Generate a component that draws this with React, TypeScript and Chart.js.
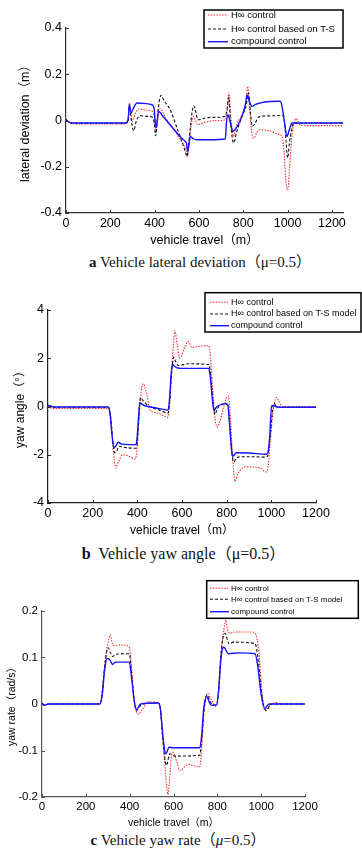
import React, { useEffect, useRef } from "react";
import { Chart, registerables } from "chart.js";

Chart.register(...registerables);

// ---------- tick labels ----------
const xTicksA = [0, 200, 400, 600, 800, 1000, 1200];
const xTicksBC = [0, 200, 400, 600, 800, 1000, 1200];
const yTicksA = [-0.4, -0.2, 0, 0.2, 0.4];
const yTicksB = [-4, -2, 0, 2, 4];
const yTicksC = [-0.2, -0.1, 0, 0.1, 0.2];

const labelsA = ["H\u221E control", "H\u221E control based on T-S", "compound control"];
const labelsBC = ["H\u221E control", "H\u221E control based on T-S model", "compound control"];

// ---------- (a) lateral deviation (m) ----------
const latHinfX = [0, 15, 40, 268, 280, 286, 293, 300, 315, 328, 360, 388, 400, 407, 414, 421, 450, 480, 520, 540, 548, 556, 565, 573, 584, 594, 620, 680, 719, 728, 735, 745, 756, 770, 800, 812, 820, 828, 838, 847, 862, 877, 920, 960, 975, 985, 993, 1000, 1008, 1018, 1030, 1039, 1048, 1057, 1100, 1250];
const latHinfY = [0.004, -0.008, -0.015, -0.015, 0.005, 0.075, 0.03, -0.004, 0.035, 0.05, 0.045, 0.04, 0.01, -0.047, 0.02, 0.054, 0.01, -0.03, -0.09, -0.125, -0.158, -0.1, -0.02, 0.018, 0.0, -0.018, -0.01, 0.0, 0.004, 0.05, 0.119, 0.0, -0.069, -0.02, 0.04, 0.08, 0.148, 0.06, -0.05, -0.076, -0.05, -0.04, -0.045, -0.06, -0.069, -0.15, -0.27, -0.3, -0.22, -0.08, -0.01, 0.008, -0.005, -0.02, -0.022, -0.022];

const latTsX = [0, 15, 40, 268, 280, 286, 295, 305, 318, 335, 360, 388, 398, 405, 413, 422, 430, 440, 470, 500, 530, 540, 546, 552, 560, 568, 576, 585, 595, 610, 628, 680, 719, 727, 734, 742, 756, 770, 795, 812, 824, 832, 840, 852, 865, 877, 920, 975, 985, 993, 1000, 1008, 1018, 1027, 1050, 1250];
const latTsY = [0.004, -0.008, -0.012, -0.012, 0.0, 0.06, 0.0, -0.044, 0.0, 0.021, 0.018, 0.015, -0.01, -0.066, 0.02, 0.09, 0.109, 0.09, 0.047, -0.03, -0.11, -0.14, -0.155, -0.12, -0.04, 0.03, 0.064, 0.04, 0.003, 0.005, 0.011, 0.014, 0.018, 0.05, 0.101, 0.0, -0.097, -0.05, 0.02, 0.06, 0.119, 0.04, -0.025, -0.015, 0.01, 0.018, 0.02, 0.022, 0.0, -0.09, -0.162, -0.1, -0.04, -0.011, -0.012, -0.012];

const latCompX = [0, 15, 40, 268, 280, 286, 293, 305, 320, 350, 388, 398, 402, 407, 412, 418, 440, 480, 520, 538, 544, 549, 555, 561, 575, 591, 650, 719, 724, 731, 742, 753, 770, 795, 810, 817, 828, 839, 855, 877, 920, 960, 967, 975, 985, 997, 1008, 1020, 1250];
const latCompY = [0.005, -0.008, -0.011, -0.011, 0.0, 0.071, 0.032, 0.055, 0.076, 0.074, 0.068, 0.05, -0.005, -0.03, 0.0, 0.039, 0.015, -0.03, -0.075, -0.09, -0.1, -0.134, -0.1, -0.069, -0.08, -0.083, -0.083, -0.08, -0.01, 0.025, -0.01, -0.047, -0.03, 0.02, 0.07, 0.112, 0.08, 0.061, 0.07, 0.076, 0.082, 0.083, 0.083, 0.06, 0.0, -0.069, -0.04, -0.011, -0.011];

// ---------- (b) yaw angle (deg) ----------
const yawHinfX = [0, 10, 30, 270, 280, 292, 303, 315, 336, 360, 389, 397, 405, 415, 426, 440, 455, 470, 500, 535, 543, 552, 562, 568, 578, 590, 610, 628, 645, 680, 720, 728, 738, 748, 758, 770, 790, 807, 815, 825, 837, 850, 865, 882, 950, 975, 985, 995, 1005, 1013, 1023, 1035, 1050, 1200];
const yawHinfY = [0.02, -0.05, -0.08, -0.08, -0.5, -1.8, -2.55, -2.3, -2.0, -2.05, -2.17, -1.9, -0.9, 0.4, 0.95, 0.6, -0.1, -0.22, -0.3, -0.45, 0.0, 1.3, 2.6, 3.15, 2.6, 2.01, 2.4, 2.7, 2.45, 2.5, 2.52, 2.0, 0.6, -0.5, -0.86, -0.6, 0.1, 0.44, -0.2, -1.8, -3.1, -2.8, -2.6, -2.5, -2.55, -2.71, -2.5, -1.5, -0.4, 0.1, 0.37, 0.2, 0.0, 0.0];

const yawTsX = [0, 10, 25, 270, 280, 290, 298, 308, 318, 340, 393, 400, 407, 414, 425, 450, 500, 538, 545, 552, 563, 572, 584, 631, 720, 728, 738, 747, 756, 767, 796, 806, 815, 824, 832, 842, 851, 900, 976, 985, 995, 1005, 1012, 1022, 1031, 1200];
const yawTsY = [0.05, 0.0, -0.03, -0.03, -0.4, -1.4, -1.92, -1.85, -1.65, -1.69, -1.73, -1.5, -0.4, 0.37, 0.25, 0.03, -0.15, -0.27, 0.2, 1.2, 2.05, 1.85, 1.7, 1.77, 1.74, 1.3, 0.3, -0.34, -0.15, 0.04, 0.1, 0.0, -1.0, -2.0, -2.3, -2.15, -2.1, -2.08, -2.1, -2.0, -1.2, -0.2, 0.14, 0.02, -0.03, -0.03];

const yawCompX = [0, 10, 25, 270, 278, 287, 295, 305, 314, 330, 393, 398, 405, 411, 420, 434, 480, 538, 545, 551, 557, 565, 578, 600, 720, 727, 735, 743, 752, 760, 796, 806, 812, 820, 826, 835, 843, 900, 976, 985, 993, 1001, 1010, 1030, 1200];
const yawCompY = [0.05, 0.03, -0.02, -0.02, -0.3, -1.2, -1.71, -1.62, -1.48, -1.56, -1.58, -1.4, -0.5, 0.16, 0.1, 0.03, -0.05, -0.15, 0.4, 1.3, 1.74, 1.68, 1.6, 1.58, 1.58, 1.2, 0.4, -0.18, -0.05, 0.02, 0.12, 0.05, -0.6, -1.6, -2.06, -2.0, -1.92, -1.93, -1.98, -1.9, -1.2, 0.02, 0.03, -0.03, -0.03];

// ---------- (c) yaw rate (rad/s) ----------
const rateHinfX = [0, 10, 30, 264, 275, 290, 305, 312, 318, 325, 360, 398, 408, 420, 439, 460, 484, 530, 540, 552, 562, 570, 575, 581, 589, 598, 612, 629, 667, 720, 728, 740, 758, 772, 794, 806, 818, 830, 839, 847, 857, 880, 957, 975, 990, 1005, 1017, 1030, 1050, 1071, 1090, 1200];
const rateHinfY = [0.002, -0.002, 0.0, 0.0, 0.03, 0.1, 0.14, 0.149, 0.135, 0.126, 0.127, 0.123, 0.08, 0.01, -0.022, -0.01, 0.005, 0.002, -0.01, -0.08, -0.14, -0.18, -0.195, -0.17, -0.12, -0.104, -0.12, -0.143, -0.13, -0.135, -0.1, -0.01, 0.023, 0.01, -0.005, 0.03, 0.11, 0.16, 0.181, 0.16, 0.152, 0.155, 0.155, 0.15, 0.11, 0.02, -0.015, -0.008, 0.0, 0.003, 0.0, 0.0];

const rateTsX = [0, 10, 30, 264, 275, 287, 302, 312, 321, 339, 398, 408, 420, 431, 455, 530, 540, 550, 560, 568, 583, 606, 720, 728, 740, 754, 768, 782, 797, 806, 815, 825, 835, 854, 872, 972, 985, 1000, 1012, 1025, 1045, 1200];
const rateTsY = [0.002, -0.002, 0.0, 0.0, 0.025, 0.085, 0.121, 0.11, 0.102, 0.107, 0.108, 0.07, 0.01, -0.014, 0.0, 0.002, -0.01, -0.07, -0.115, -0.132, -0.107, -0.112, -0.11, -0.08, -0.01, 0.02, 0.005, -0.002, -0.002, 0.03, 0.1, 0.14, 0.152, 0.129, 0.133, 0.13, 0.1, 0.03, -0.005, -0.014, 0.0, 0.0];

const rateCompX = [0, 10, 30, 264, 275, 285, 297, 310, 321, 336, 398, 408, 420, 431, 450, 530, 540, 550, 558, 565, 580, 600, 720, 728, 738, 751, 765, 774, 797, 806, 815, 823, 830, 850, 900, 972, 985, 1000, 1017, 1030, 1040, 1200];
const rateCompY = [0.002, -0.003, 0.0, 0.0, 0.02, 0.07, 0.098, 0.095, 0.085, 0.09, 0.09, 0.06, 0.01, -0.012, 0.0, 0.002, -0.01, -0.06, -0.095, -0.107, -0.093, -0.094, -0.094, -0.07, -0.01, 0.016, 0.002, -0.003, -0.002, 0.03, 0.09, 0.118, 0.122, 0.108, 0.11, 0.108, 0.08, 0.02, -0.01, -0.002, 0.0, 0.0];

// ---------- styles ----------
const SANS = "'Liberation Sans', Arial, 'Noto Sans CJK SC', sans-serif";
const SERIF = "'Liberation Serif', 'Times New Roman', 'Noto Sans CJK SC', serif";
const STYLES = [
  { color: "rgba(255,20,20,0.95)", width: 1.1, dash: [1.4, 1.4] },
  { color: "#111111", width: 1.1, dash: [3, 2] },
  { color: "#1414ff", width: 1.4, dash: [] as number[] },
];

type Panel = {
  top: number;
  height: number;
  padTop: number;
  padRight: number;
  yAxisW: number;
  xAxisH: number;
  xMax: number;
  xTicks: number[];
  yMin: number;
  yMax: number;
  yTicks: number[];
  tickFont: number;
  titleFont: number;
  xTitle: string;
  yTitle: string;
  xTitlePad: number;
  yTitlePad: number;
  axisColor: string;
  labels: string[];
  series: { xs: number[]; ys: number[] }[];
  legend: { x: number; y: number; w: number; h: number; rows: number[]; s0: number; s1: number; tx: number; font: number };
};

const panels: Panel[] = [
  {
    top: 0, height: 250, padTop: 28, padRight: 19, yAxisW: 66, xAxisH: 37,
    xMax: 1250, xTicks: xTicksA, yMin: -0.4, yMax: 0.4, yTicks: yTicksA,
    tickFont: 12.5, titleFont: 12.5,
    xTitle: "vehicle travel\uFF08m\uFF09", yTitle: "lateral deviation\uFF08m\uFF09",
    xTitlePad: 2, yTitlePad: 18, axisColor: "#333",
    labels: labelsA,
    series: [
      { xs: latHinfX, ys: latHinfY },
      { xs: latTsX, ys: latTsY },
      { xs: latCompX, ys: latCompY },
    ],
    legend: { x: 204, y: 10, w: 139, h: 38, rows: [15, 29, 41.7], s0: 208, s1: 228, tx: 231, font: 9.5 },
  },
  {
    top: 290, height: 250, padTop: 20, padRight: 46, yAxisW: 48, xAxisH: 37,
    xMax: 1200, xTicks: xTicksBC, yMin: -4, yMax: 4, yTicks: yTicksB,
    tickFont: 12.5, titleFont: 12,
    xTitle: "vehicle travel\uFF08m\uFF09", yTitle: "yaw angle\uFF08\u00B0\uFF09",
    xTitlePad: 1.8, yTitlePad: 13.6, axisColor: "#222",
    labels: labelsBC,
    series: [
      { xs: yawHinfX, ys: yawHinfY },
      { xs: yawTsX, ys: yawTsY },
      { xs: yawCompX, ys: yawCompY },
    ],
    legend: { x: 205, y: 2.7, w: 156, h: 39.3, rows: [12.3, 24, 35.7], s0: 210, s1: 229, tx: 231, font: 9 },
  },
  {
    top: 575, height: 255, padTop: 36, padRight: 57, yAxisW: 42, xAxisH: 33,
    xMax: 1200, xTicks: xTicksBC, yMin: -0.2, yMax: 0.2, yTicks: yTicksC,
    tickFont: 11.5, titleFont: 10.5,
    xTitle: "vehicle travel\uFF08m\uFF09", yTitle: "yaw rate\uFF08rad/s\uFF09",
    xTitlePad: 0.4, yTitlePad: 5.4, axisColor: "#555",
    labels: labelsBC,
    series: [
      { xs: rateHinfX, ys: rateHinfY },
      { xs: rateTsX, ys: rateTsY },
      { xs: rateCompX, ys: rateCompY },
    ],
    legend: { x: 206.7, y: 5.7, w: 151.6, h: 37.6, rows: [13.3, 24.3, 36.7], s0: 210, s1: 229, tx: 231, font: 8 },
  },
];

function makePlugins(p: Panel) {
  const inward = {
    id: "inwardTicks",
    beforeDatasetsDraw(chart: any) {
      const { ctx, chartArea, scales } = chart;
      ctx.save();
      ctx.strokeStyle = p.axisColor;
      ctx.lineWidth = 1;
      ctx.setLineDash([]);
      scales.x.ticks.forEach((t: any) => {
        const px = Math.round(scales.x.getPixelForValue(t.value)) + 0.5;
        ctx.beginPath();
        ctx.moveTo(px, chartArea.bottom);
        ctx.lineTo(px, chartArea.bottom - 3);
        ctx.stroke();
      });
      scales.y.ticks.forEach((t: any) => {
        const py = Math.round(scales.y.getPixelForValue(t.value)) + 0.5;
        ctx.beginPath();
        ctx.moveTo(chartArea.left, py);
        ctx.lineTo(chartArea.left + 3, py);
        ctx.stroke();
      });
      ctx.restore();
    },
  };
  const legend = {
    id: "boxLegend",
    afterDatasetsDraw(chart: any) {
      const L = p.legend;
      const ctx = chart.ctx;
      ctx.save();
      ctx.fillStyle = "#ffffff";
      ctx.fillRect(L.x, L.y, L.w, L.h);
      ctx.strokeStyle = "#000";
      ctx.lineWidth = 1.5;
      ctx.setLineDash([]);
      ctx.strokeRect(L.x, L.y, L.w, L.h);
      chart.data.datasets.forEach((ds: any, i: number) => {
        const y = L.rows[i];
        ctx.beginPath();
        ctx.strokeStyle = ds.borderColor;
        ctx.lineWidth = ds.borderWidth;
        ctx.setLineDash(ds.borderDash || []);
        ctx.moveTo(L.s0, y);
        ctx.lineTo(L.s1, y);
        ctx.stroke();
        ctx.setLineDash([]);
        ctx.fillStyle = "#000";
        ctx.font = `${L.font}px ${SANS}`;
        ctx.textBaseline = "middle";
        ctx.textAlign = "left";
        ctx.fillText(ds.label, L.tx, y);
      });
      ctx.restore();
    },
  };
  return [inward, legend];
}

function buildConfig(p: Panel): any {
  return {
    type: "line",
    data: {
      datasets: p.series.map((s, i) => ({
        label: p.labels[i],
        data: s.xs.map((x, k) => ({ x, y: s.ys[k] })),
        borderColor: STYLES[i].color,
        borderWidth: STYLES[i].width,
        borderDash: STYLES[i].dash,
        pointRadius: 0,
        fill: false,
        cubicInterpolationMode: "monotone",
        order: 2 - i,
      })),
    },
    options: {
      responsive: false,
      animation: false,
      devicePixelRatio: 1,
      events: [],
      layout: { padding: { top: p.padTop, right: p.padRight, left: 0, bottom: 0 } },
      plugins: { legend: { display: false }, tooltip: { enabled: false } },
      scales: {
        x: {
          type: "linear",
          min: 0,
          max: p.xMax,
          afterBuildTicks: (s: any) => {
            s.ticks = p.xTicks.map((v) => ({ value: v }));
          },
          afterFit: (s: any) => {
            s.height = p.xAxisH;
          },
          grid: { display: false, drawTicks: false },
          border: { display: true, color: p.axisColor, width: 1.2 },
          ticks: {
            autoSkip: false,
            maxRotation: 0,
            padding: 3,
            color: "#000",
            font: { family: SANS, size: p.tickFont },
            callback: (v: any) => String(v),
          },
          title: {
            display: true,
            text: p.xTitle,
            color: "#000",
            font: { family: SANS, size: p.titleFont },
            padding: { top: 0, bottom: p.xTitlePad },
          },
        },
        y: {
          type: "linear",
          min: p.yMin,
          max: p.yMax,
          afterBuildTicks: (s: any) => {
            s.ticks = p.yTicks.map((v) => ({ value: v }));
          },
          afterFit: (s: any) => {
            s.width = p.yAxisW;
          },
          grid: { display: false, drawTicks: false },
          border: { display: true, color: p.axisColor, width: 1.2 },
          ticks: {
            autoSkip: false,
            padding: 4,
            color: "#000",
            font: { family: SANS, size: p.tickFont },
            callback: (v: any) => String(v),
          },
          title: {
            display: true,
            text: p.yTitle,
            color: "#000",
            font: { family: SANS, size: p.titleFont },
            padding: { top: p.yTitlePad, bottom: 0 },
          },
        },
      },
    },
    plugins: makePlugins(p),
  };
}

function PanelChart({ p }: { p: Panel }) {
  const ref = useRef<HTMLCanvasElement | null>(null);
  useEffect(() => {
    if (!ref.current) return;
    const chart = new Chart(ref.current, buildConfig(p));
    return () => chart.destroy();
  }, [p]);
  return (
    <canvas
      ref={ref}
      width={362}
      height={p.height}
      style={{ position: "absolute", left: 0, top: p.top, width: 362, height: p.height }}
    />
  );
}

const captionBase: React.CSSProperties = {
  position: "absolute",
  width: 300,
  textAlign: "center",
  fontFamily: SERIF,
  color: "#111",
  whiteSpace: "nowrap",
};

export default function App() {
  return (
    <div style={{ position: "absolute", left: 0, top: 0, width: 362, height: 860, background: "#fff", overflow: "hidden" }}>
      {panels.map((p, i) => (
        <PanelChart key={i} p={p} />
      ))}
      <div style={{ ...captionBase, left: 200 - 150, top: 254, fontSize: 15, lineHeight: "17px" }}>
        <b>a</b> Vehicle lateral deviation{"\uFF08"}{"\u03BC"}=0.5{"\uFF09"}
      </div>
      <div style={{ ...captionBase, left: 183.5 - 150, top: 545, fontSize: 16, lineHeight: "18px" }}>
        <b>b</b>&nbsp; Vehicle yaw angle{"\uFF08"}{"\u03BC"}=0.5{"\uFF09"}
      </div>
      <div style={{ ...captionBase, left: 178 - 150, top: 832, fontSize: 15, lineHeight: "17px" }}>
        <b>c</b> Vehicle yaw rate{"\uFF08"}<i>{"\u03BC"}</i>=0.5{"\uFF09"}
      </div>
    </div>
  );
}
